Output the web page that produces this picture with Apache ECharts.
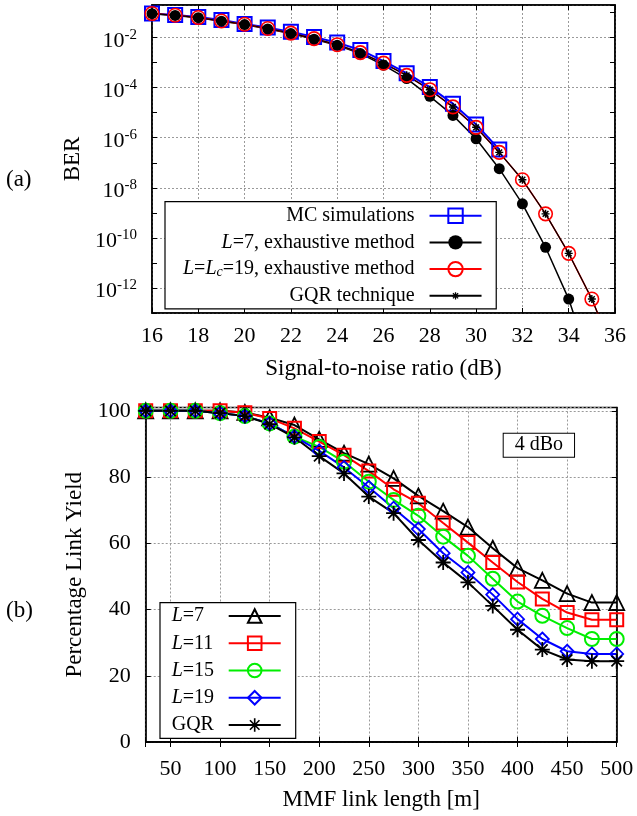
<!DOCTYPE html>
<html><head><meta charset="utf-8">
<script src="https://cdn.jsdelivr.net/npm/echarts@6/dist/echarts.min.js"></script>
<style>html,body{margin:0;padding:0;background:#fff}#c{width:637px;height:816px}</style>
</head><body><div id="c"></div>
<script>
// ---------- (a) BER vs SNR ----------
const snrDb = [16,17,18,19,20,21,22,23,24,25,26,27,28,29,30,31,32,33,34,35,36];
const berMC  = [9.1e-2,7.9e-2,6.6e-2,5.0e-2,3.5e-2,2.5e-2,1.7e-2,1.05e-2,6.3e-3,3.2e-3,1.15e-3,3.8e-4,1.05e-4,2.3e-5,3.4e-6,3.4e-7];
const berL7  = [9.0e-2,7.7e-2,6.2e-2,4.5e-2,3.3e-2,2.2e-2,1.45e-2,8.6e-3,4.9e-3,2.3e-3,7.9e-4,2.3e-4,4.5e-5,7.8e-6,9.1e-7,5.8e-8,2.3e-9,4.2e-11,3.6e-13,6e-16];
const berL19 = [9.1e-2,7.8e-2,6.3e-2,4.6e-2,3.4e-2,2.3e-2,1.5e-2,9.1e-3,5.2e-3,2.5e-3,9.5e-4,3.1e-4,8.3e-5,1.7e-5,2.6e-6,2.6e-7,2.1e-8,9.1e-10,2.4e-11,3.6e-13,2e-15];
const berGQR = [9.1e-2,7.8e-2,6.3e-2,4.6e-2,3.4e-2,2.3e-2,1.5e-2,9.1e-3,5.2e-3,2.5e-3,9.5e-4,3.1e-4,8.3e-5,1.7e-5,2.6e-6,2.6e-7,2.1e-8,9.1e-10,2.4e-11,3.6e-13,2e-15];
const topNames = ['MC simulations','L=7, exhaustive method','L=Lc=19, exhaustive method','GQR technique'];

// ---------- (b) Link yield vs length ----------
const mmfLength = [25,50,75,100,125,150,175,200,225,250,275,300,325,350,375,400,425,450,475,500];
const yieldL7  = [100,100,100,100,99.5,97.9,95.7,91.4,87.2,83.9,79.6,74.3,69.7,64.9,58.5,52.5,48.8,44.8,42.1,42.1];
const yieldL11 = [100,100,100,100,99.4,97.7,94.7,90.7,86.6,81.8,76.3,72.1,66.1,60.2,54.2,48.3,43.2,39.1,36.9,36.9];
const yieldL15 = [100,100,100,99.3,98.4,96.2,92.2,89.1,84.6,78.6,73.1,68.3,62.0,56.2,49.3,42.4,38.1,34.4,31.1,31.1];
const yieldL19 = [100,100,100,99.3,98.4,96.2,92.2,87.9,82.9,76.9,70.6,64.3,57.0,51.2,44.5,37.1,31.1,27.4,26.6,26.6];
const yieldGQR = [100,100,100,99.3,98.4,96.0,92.0,86.3,81.1,74.1,69.1,61.0,54.2,48.2,41.1,33.9,27.9,24.9,24.4,24.4];
const botNames = ['L=7','L=11','L=15','L=19','GQR'];

const FONT = 'Liberation Serif';
const pairs = (xs, ys) => ys.map((y, i) => [xs[i], y]);
const smallStar = 'path://M0 0L0 0Z M100 100L100 100Z M45.5 25L54.5 25L54.5 75L45.5 75Z M25 45.5L75 45.5L75 54.5L25 54.5Z M35.2 28.8L71.2 64.8L64.8 71.2L28.8 35.2Z M64.8 28.8L71.2 35.2L35.2 71.2L28.8 64.8Z';
const bigStar = 'path://M44 0L56 0L56 100L44 100Z M0 44L100 44L100 56L0 56Z M19.2 10.8L89.2 80.8L80.8 89.2L10.8 19.2Z M80.8 10.8L89.2 19.2L19.2 89.2L10.8 80.8Z';
const CLEAR = 'rgba(0,0,0,0)';
const gridLine = {show: true, lineStyle: {color: '#9a9a9a', width: 1, type: [2, 2]}};
const blackLine = {show: true, lineStyle: {color: '#000', width: 1.5}};
const tickIn = {show: true, inside: true, length: 5, lineStyle: {color: '#000', width: 1}};
const lbl = {fontFamily: FONT, fontSize: 22, color: '#000'};
const nameStyle = {fontFamily: FONT, fontSize: 23, color: '#000'};

const chart = echarts.init(document.getElementById('c'), null, {renderer: 'canvas'});
chart.setOption({
  animation: false,
  backgroundColor: '#fff',
  grid: [
    {left: 152, top: 5, width: 463, height: 308, show: true, borderColor: '#000', borderWidth: 1.5, backgroundColor: CLEAR},
    {left: 145.7, top: 407.5, width: 471, height: 334.5, show: true, borderColor: '#000', borderWidth: 1.5, backgroundColor: CLEAR}
  ],
  xAxis: [
    {gridIndex: 0, type: 'value', position: 'bottom', min: 16, max: 36, interval: 2,
     axisLine: blackLine, axisTick: tickIn, splitLine: gridLine,
     axisLabel: Object.assign({margin: 12.5}, lbl),
     name: 'Signal-to-noise ratio (dB)', nameLocation: 'middle', nameGap: 44, nameTextStyle: nameStyle},
    {gridIndex: 0, type: 'value', position: 'top', min: 16, max: 36, interval: 2,
     axisLine: blackLine, axisTick: tickIn, splitLine: {show: false}, axisLabel: {show: false}},
    {gridIndex: 1, type: 'value', position: 'bottom', min: 25, max: 500, splitNumber: 10,
     axisLine: blackLine, axisTick: tickIn, splitLine: gridLine,
     axisLabel: Object.assign({margin: 16, formatter: v => (v % 50 === 0 ? String(v) : '')}, lbl),
     name: 'MMF link length [m]', nameLocation: 'middle', nameGap: 46, nameTextStyle: nameStyle},
    {gridIndex: 1, type: 'value', position: 'top', min: 25, max: 500, splitNumber: 10,
     axisLine: blackLine, axisTick: tickIn, splitLine: {show: false}, axisLabel: {show: false}}
  ],
  yAxis: [
    {gridIndex: 0, type: 'log', logBase: 100, position: 'left', min: 1e-13, max: 0.2,
     axisLine: blackLine, axisTick: {show: false}, splitLine: gridLine,
     axisLabel: {margin: 15, formatter: v => {
        const e = Math.log10(v), r = Math.round(e);
        if (Math.abs(e - r) > 1e-6 || r % 2 !== 0 || r > -2) return '';
        return '{b|10}{s|' + r + '}';
      },
      rich: {b: {fontFamily: FONT, fontSize: 22, color: '#000', verticalAlign: 'bottom'},
             s: {fontFamily: FONT, fontSize: 15, color: '#000', verticalAlign: 'top', padding: [4, 0, 10, 0]}}},
     name: 'BER', nameLocation: 'middle', nameGap: 59, nameTextStyle: nameStyle},
    {gridIndex: 0, type: 'log', logBase: 10, position: 'left', min: 1e-13, max: 0.2, interval: 1,
     axisLine: {show: false}, axisTick: tickIn, splitLine: {show: false}, axisLabel: {show: false}},
    {gridIndex: 0, type: 'log', logBase: 10, position: 'right', min: 1e-13, max: 0.2, interval: 1,
     axisLine: blackLine, axisTick: tickIn, splitLine: {show: false}, axisLabel: {show: false}},
    {gridIndex: 1, type: 'value', position: 'left', min: 0, max: 101, interval: 20,
     axisLine: blackLine, axisTick: tickIn, splitLine: gridLine,
     axisLabel: Object.assign({margin: 15, formatter: v => (v % 20 === 0 ? String(v) : '')}, lbl),
     name: 'Percentage Link Yield', nameLocation: 'middle', nameGap: 45, nameTextStyle: nameStyle},
    {gridIndex: 1, type: 'value', position: 'right', min: 0, max: 101, interval: 20,
     axisLine: blackLine, axisTick: tickIn, splitLine: {show: false}, axisLabel: {show: false}}
  ],
  legend: [
    {data: topNames, orient: 'vertical', align: 'right', left: 165, top: 201.7,
     itemWidth: 52, itemHeight: 18, itemGap: 6.7, padding: [4, 13.7, 3, 18],
     backgroundColor: '#fff', borderColor: '#000', borderWidth: 1.2, borderRadius: 0,
     selectedMode: false,
     textStyle: {fontFamily: FONT, fontSize: 20, color: '#000',
       rich: {i: {fontFamily: FONT, fontSize: 20, fontStyle: 'italic', color: '#000'},
              sub: {fontFamily: FONT, fontSize: 14, fontStyle: 'italic', color: '#000', verticalAlign: 'bottom'}}},
     formatter: n => {
       if (n === 'L=7, exhaustive method') return '{i|L}=7, exhaustive method  ';
       if (n === 'L=Lc=19, exhaustive method') return '{i|L}={i|L}{sub|c}=19, exhaustive method  ';
       return n + '  ';
     }},
    {data: botNames, orient: 'vertical', align: 'right', left: 160, top: 602.7,
     itemWidth: 52, itemHeight: 17, itemGap: 7.25, padding: [3.3, 14, 3.3, 11.7],
     backgroundColor: '#fff', borderColor: '#000', borderWidth: 1.2, borderRadius: 0,
     selectedMode: false,
     textStyle: {fontFamily: FONT, fontSize: 20, color: '#000', width: 52, align: 'left',
       rich: {i: {fontFamily: FONT, fontSize: 20, fontStyle: 'italic', color: '#000', align: 'left'},
              n: {fontFamily: FONT, fontSize: 20, color: '#000', align: 'left'}}},
     formatter: n => (n.startsWith('L=') ? '{i|L}{n|' + n.slice(1) + '}' : '{n|' + n + '}')}
  ],
  graphic: [
    {type: 'text', left: 6, top: 168, style: {text: '(a)', font: '23px "Liberation Serif"', fill: '#000'}},
    {type: 'text', left: 6, top: 599, style: {text: '(b)', font: '23px "Liberation Serif"', fill: '#000'}},
    {type: 'text', left: 502.7, top: 432.7, z: 100,
     style: {text: '4 dBo', font: '20px "Liberation Serif"', fill: '#000', padding: [1.5, 11, 1.5, 11],
             borderColor: '#000', borderWidth: 1, backgroundColor: '#fff'}}
  ],
  series: [
    {name: topNames[0], type: 'line', xAxisIndex: 0, yAxisIndex: 0, data: pairs(snrDb, berMC), silent: true,
     symbol: 'rect', symbolSize: 14, itemStyle: {color: CLEAR, borderColor: '#0000ff', borderWidth: 2},
     lineStyle: {color: '#0000ff', width: 2}},
    {name: topNames[1], type: 'line', xAxisIndex: 0, yAxisIndex: 0, data: pairs(snrDb, berL7), silent: true,
     symbol: 'circle', symbolSize: 11, itemStyle: {color: '#000', borderWidth: 0},
     lineStyle: {color: '#000', width: 1.5}},
    {name: topNames[2], type: 'line', xAxisIndex: 0, yAxisIndex: 0, data: pairs(snrDb, berL19), silent: true,
     symbol: 'circle', symbolSize: 13.5, itemStyle: {color: CLEAR, borderColor: '#ff0000', borderWidth: 1.6},
     lineStyle: {color: '#ff0000', width: 1.5}},
    {name: topNames[3], type: 'line', xAxisIndex: 0, yAxisIndex: 0, data: pairs(snrDb, berGQR), silent: true,
     symbol: smallStar, symbolSize: 16, itemStyle: {color: '#000', borderWidth: 0},
     lineStyle: {color: '#000', width: 1.2}},

    {name: botNames[0], type: 'line', xAxisIndex: 2, yAxisIndex: 3, data: pairs(mmfLength, yieldL7), silent: true,
     symbol: 'triangle', symbolSize: 15, itemStyle: {color: CLEAR, borderColor: '#000', borderWidth: 1.8},
     lineStyle: {color: '#000', width: 2}},
    {name: botNames[1], type: 'line', xAxisIndex: 2, yAxisIndex: 3, data: pairs(mmfLength, yieldL11), silent: true,
     symbol: 'rect', symbolSize: 13, itemStyle: {color: CLEAR, borderColor: '#ff0000', borderWidth: 2},
     lineStyle: {color: '#ff0000', width: 2}},
    {name: botNames[2], type: 'line', xAxisIndex: 2, yAxisIndex: 3, data: pairs(mmfLength, yieldL15), silent: true,
     symbol: 'circle', symbolSize: 14, itemStyle: {color: CLEAR, borderColor: '#00ee00', borderWidth: 2},
     lineStyle: {color: '#00ee00', width: 2}},
    {name: botNames[3], type: 'line', xAxisIndex: 2, yAxisIndex: 3, data: pairs(mmfLength, yieldL19), silent: true,
     symbol: 'diamond', symbolSize: 13, itemStyle: {color: CLEAR, borderColor: '#0000ff', borderWidth: 1.8},
     lineStyle: {color: '#0000ff', width: 2}},
    {name: botNames[4], type: 'line', xAxisIndex: 2, yAxisIndex: 3, data: pairs(mmfLength, yieldGQR), silent: true,
     symbol: bigStar, symbolSize: 15, itemStyle: {color: '#000', borderWidth: 0},
     lineStyle: {color: '#000', width: 2}}
  ]
});
</script></body></html>
